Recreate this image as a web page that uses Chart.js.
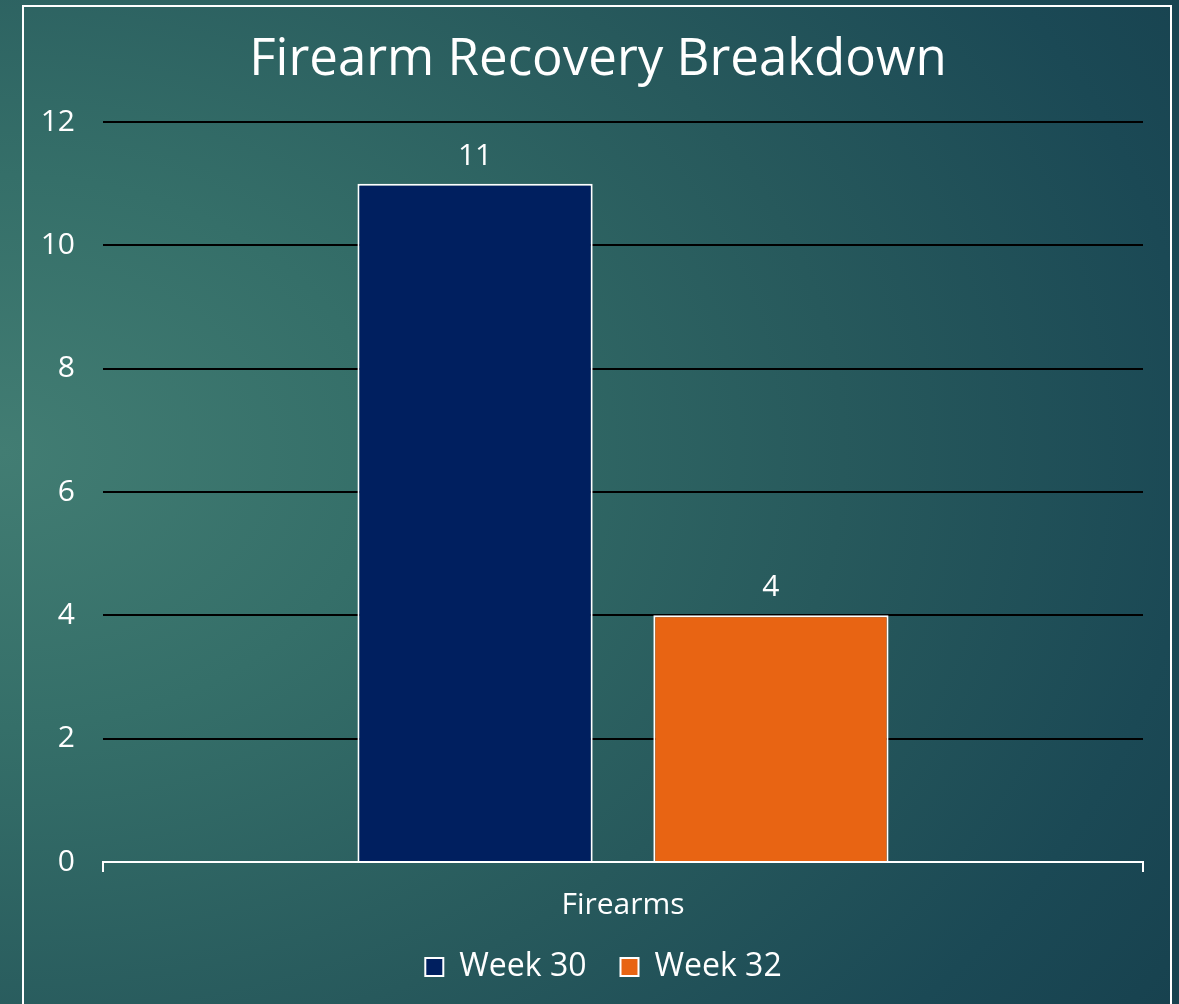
<!DOCTYPE html>
<html>
<head>
<meta charset="utf-8">
<script src="https://cdn.jsdelivr.net/npm/chart.js@4"></script>
<style>
  html, body { margin: 0; padding: 0; width: 1179px; height: 1004px; overflow: hidden; }
  body {
    background: radial-gradient(ellipse 130% 110% at 0% 45%, #427d73 0%, #356f69 25%, #27595c 55%, #1b4955 78%, #153d4b 100%);
  }
  #frame {
    position: absolute; left: 22px; top: 5px; width: 1150px; height: 1010px;
    border: 2px solid #ffffff; box-sizing: border-box;
  }
  #wrap { position: absolute; left: 0; top: 0; width: 1179px; height: 1004px; }
</style>
</head>
<body>
<div id="frame"></div>
<div id="wrap"><canvas id="chart-firearms" width="1179" height="1004"></canvas></div>
<script>
const FONT = "'Open Sans', 'DejaVu Sans', sans-serif";
Chart.defaults.font.family = FONT;
Chart.defaults.color = '#ffffff';

// ── data ──────────────────────────────────────────────────────────────────────
const TITLE = 'Firearm Recovery Breakdown';
const CATEGORIES = ['Firearms'];
const SERIES_NAMES = ['Week 30', 'Week 32'];
const WEEK_30 = [11];
const WEEK_32 = [4];
const SERIES_COLORS = ['#001f5f', '#e86413'];
const Y_MAX = 12;
const Y_STEP = 2;

// title centred on the slide frame, not on the canvas
const slideTitle = {
  id: 'slideTitle',
  afterDraw(chart) {
    const { ctx } = chart;
    ctx.save();
    ctx.fillStyle = '#ffffff';
    ctx.font = '51px ' + FONT;
    ctx.textAlign = 'center';
    ctx.textBaseline = 'alphabetic';
    ctx.fillText(TITLE, 598, 75);
    ctx.restore();
  },
};

// legend sits a little right of the canvas centre in the original slide
const legendNudge = {
  id: 'legendNudge',
  afterLayout(chart) {
    if (chart.legend) chart.legend.left += 64;
  },
};

// value labels above each bar
const barValues = {
  id: 'barValues',
  afterDatasetsDraw(chart) {
    const { ctx } = chart;
    ctx.save();
    ctx.fillStyle = '#ffffff';
    ctx.font = '30px ' + FONT;
    ctx.textAlign = 'center';
    ctx.textBaseline = 'alphabetic';
    chart.data.datasets.forEach((ds, i) => {
      chart.getDatasetMeta(i).data.forEach((bar, j) => {
        ctx.fillText(String(ds.data[j]), bar.x, bar.y - 19);
      });
    });
    ctx.restore();
  },
};

new Chart(document.getElementById('chart-firearms'), {
  type: 'bar',
  data: {
    labels: CATEGORIES,
    datasets: [
      { label: SERIES_NAMES[0], data: WEEK_30, backgroundColor: SERIES_COLORS[0], borderColor: '#ffffff', borderWidth: 2 },
      { label: SERIES_NAMES[1], data: WEEK_32, backgroundColor: SERIES_COLORS[1], borderColor: '#ffffff', borderWidth: 2 },
    ],
  },
  options: {
    responsive: false,
    animation: false,
    devicePixelRatio: 1,
    categoryPercentage: 0.569,
    barPercentage: 0.795,
    layout: { padding: { left: 0, right: 36, top: 122, bottom: 11 } },
    plugins: {
      title: { display: false },
      legend: {
        position: 'bottom',
        labels: {
          color: '#ffffff',
          font: { size: 32 },
          boxWidth: 18,
          boxHeight: 18,
          padding: 34,
          generateLabels(chart) {
            return chart.data.datasets.map((ds, i) => ({
              text: ds.label,
              fillStyle: ds.backgroundColor,
              strokeStyle: '#ffffff',
              lineWidth: 2,
              fontColor: '#ffffff',
              datasetIndex: i,
              hidden: false,
            }));
          },
        },
      },
      tooltip: { enabled: false },
    },
    scales: {
      x: {
        offset: true,
        grid: { display: true, drawOnChartArea: false, drawTicks: true, tickLength: 10, color: '#ffffff', lineWidth: 2, offset: true },
        border: { display: true, color: '#ffffff', width: 2 },
        ticks: { color: '#ffffff', font: { size: 30 }, padding: 15 },
        afterFit(s) { s.height = 55; },
      },
      y: {
        min: 0,
        max: Y_MAX,
        ticks: { stepSize: Y_STEP, color: '#ffffff', font: { size: 30 }, padding: 28 },
        grid: {
          drawTicks: false,
          lineWidth: 2,
          color: c => (c.tick && c.tick.value === 0 ? 'rgba(0,0,0,0)' : '#000000'),
        },
        border: { display: false },
        afterFit(s) { s.width = 103; },
      },
    },
  },
  plugins: [barValues, slideTitle, legendNudge],
});
</script>
</body>
</html>
